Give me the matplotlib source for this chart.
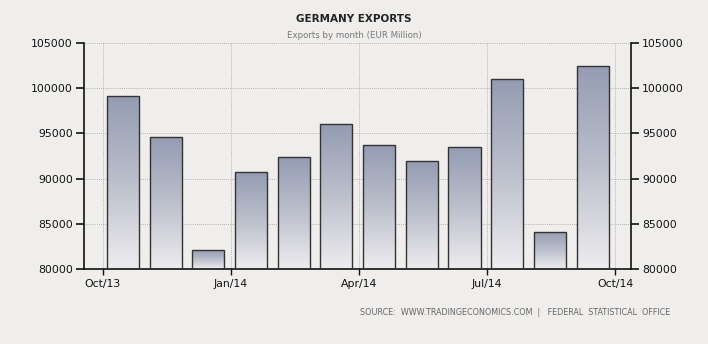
import numpy as np
import matplotlib
matplotlib.use("Agg")
import matplotlib.pyplot as plt
from matplotlib.colors import LinearSegmentedColormap

# monthly exports, Oct/13 .. Sep/14 (EUR million)
months = ["Oct/13", "Nov/13", "Dec/13", "Jan/14", "Feb/14", "Mar/14",
          "Apr/14", "May/14", "Jun/14", "Jul/14", "Aug/14", "Sep/14"]
exports = [99100, 94600, 82100, 90700, 92400, 96000,
           93700, 92000, 93500, 101000, 84100, 102500]
tick_labels = ["Oct/13", "Jan/14", "Apr/14", "Jul/14", "Oct/14"]
tick_pos = [0, 3, 6, 9, 12]
yticks = [80000, 85000, 90000, 95000, 100000, 105000]

bg = "#f0eeec"
fig = plt.figure(figsize=(7.08, 3.44), dpi=100, facecolor=bg)
ax = fig.add_axes([0.1186, 0.218, 0.7726, 0.657], facecolor=bg)

x = np.arange(len(months)) + 0.47
bars = ax.bar(x, exports, width=0.75, bottom=0, color="none",
              edgecolor="#333333", linewidth=1.0, zorder=3)

# vertical gradient inside each bar
cmap = LinearSegmentedColormap.from_list("g", ["#eeecef", "#bcc0cc", "#959cb2"])
grad = np.linspace(0, 1, 256).reshape(-1, 1)
for b in bars:
    x0, w, h = b.get_x(), b.get_width(), b.get_height()
    im = ax.imshow(grad, cmap=cmap, aspect="auto", origin="lower",
                   extent=[x0, x0 + w, 80000, h], zorder=2)
    im.set_clip_path(b)

ax.set_xlim(-0.445, 12.37)
ax.set_ylim(80000, 105000)
ax.set_xticks(tick_pos)
ax.set_xticklabels(tick_labels)
ax.set_yticks(yticks)
ax.set_yticklabels([str(v) for v in yticks])
ax.grid(True, color="#a0a0a0", linestyle=(0, (1, 1.5)), linewidth=0.6, zorder=1)

ax.tick_params(axis="y", direction="out", length=6, width=1.2, labelsize=7.8,
               colors="#111111", left=True, right=True, labelleft=True, labelright=True,
               pad=2)
ax.tick_params(axis="x", direction="out", length=4, width=1, labelsize=7.8,
               colors="#111111", pad=3)
for s in ["left", "right", "bottom"]:
    ax.spines[s].set_linewidth(1.2)
    ax.spines[s].set_color("#111111")
ax.spines["top"].set_visible(False)

fig.text(0.5, 0.945, "GERMANY EXPORTS", ha="center", va="center",
         fontsize=7.5, fontweight="bold", color="#222222")
fig.text(0.5, 0.898, "Exports by month (EUR Million)", ha="center", va="center",
         fontsize=6.2, color="#777777")
fig.text(0.947, 0.093,
         "SOURCE:  WWW.TRADINGECONOMICS.COM  |   FEDERAL  STATISTICAL  OFFICE",
         ha="right", va="center", fontsize=5.75, color="#666666")

fig.savefig("out.png", dpi=100, facecolor=bg)
